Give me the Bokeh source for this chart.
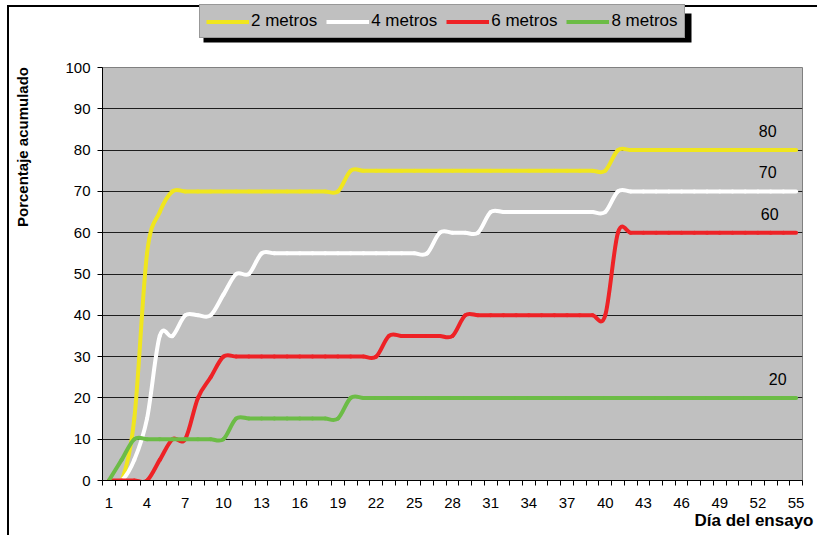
from bokeh.plotting import figure
from bokeh.layouts import column, row
from bokeh.models import (Range1d, FixedTicker, Legend, LegendItem, Label,
                          Title, BoxAnnotation)
from bokeh.embed import file_html
from bokeh.resources import INLINE

# Cumulative germination (%) per trial day, by planting distance
days = list(range(1, 56))
tick_days = list(range(1, 56, 3))
y_ticks = list(range(0, 101, 10))

series_names = ["2 metros", "4 metros", "6 metros", "8 metros"]

dist_2m = [0, 0, 15, 55, 65] + [70] * 14 + [75] * 21 + [80] * 15
dist_4m = ([0, 0, 5, 15, 35, 35, 40, 40, 40, 45, 50, 50] + [55] * 14
           + [60] * 4 + [65] * 10 + [70] * 15)
dist_6m = [0, 0, 0, 0, 5, 10, 10, 20, 25] + [30] * 13 + [35] * 6 + [40] * 12 + [60] * 15
dist_8m = [0, 5] + [10] * 8 + [15] * 9 + [20] * 36

series_values = [dist_2m, dist_4m, dist_6m, dist_8m]
series_colors = ["#F0E61E", "#FFFFFF", "#EE2226", "#6CBC46"]

FONT = "Liberation Sans"

PAGE_W, PAGE_H = 817, 535
SIDE_W = 40                # strip holding the y title
TOP_H = 60                 # strip holding the legend
F_LEFT, F_RIGHT, F_TOP, F_BOTTOM = 102, 802, 67, 480   # plot area, page px

# legend box geometry (page px)
LEG_X, LEG_TOP, LEG_W, LEG_H, LEG_PAD = 199, 9, 488, 29, 6

BLACK = "linear-gradient(#000, #000)"


def bare_figure(width, height, x_range, y_range, background):
    f = figure(width=width, height=height, output_backend="svg",
               toolbar_location=None, x_range=x_range, y_range=y_range,
               x_axis_type=None, y_axis_type=None, min_border=0,
               outline_line_color=None, background_fill_alpha=0,
               border_fill_alpha=0, frame_align=False,
               styles={"background": background})
    f.xgrid.visible = False
    f.ygrid.visible = False
    return f


# ---------------------------------------------------------------- y title strip
side = bare_figure(SIDE_W, PAGE_H, Range1d(0, SIDE_W), Range1d(PAGE_H, 0),
                   f"{BLACK} 7px 5px / 2px 100% no-repeat, "
                   f"{BLACK} 7px 5px / 100% 2px no-repeat, #fff")
side.add_layout(Label(x=22, y=146.5, text="Porcentaje acumulado",
                      angle=1.5707963, text_align="center",
                      text_baseline="middle", text_font=FONT,
                      text_font_size="15px", text_font_style="bold",
                      text_color="black"))

# ---------------------------------------------------------------- legend strip
top = bare_figure(PAGE_W - SIDE_W, TOP_H, Range1d(SIDE_W, PAGE_W),
                  Range1d(TOP_H, 0),
                  f"{BLACK} 0 5px / 100% 2px no-repeat, #fff")

# drop shadow of the legend box
top.add_layout(BoxAnnotation(left=LEG_X + 4, right=LEG_X + 4 + LEG_W,
                             top=LEG_TOP + 4, bottom=LEG_TOP + 4 + LEG_H,
                             fill_color="black", fill_alpha=1, line_alpha=0))

# legend keys: the series drawn on an off-screen range, so only their
# legend swatches show in this strip
top.extra_y_ranges = {"keys": Range1d(-300, -200)}
keys = [top.line(x=days, y=vals, y_range_name="keys",
                 line_color=c, line_width=4)
        for vals, c in zip(series_values, series_colors)]
legend = Legend(items=[LegendItem(label=n, renderers=[k])
                       for n, k in zip(series_names, keys)],
                location=(LEG_X - SIDE_W, TOP_H - (LEG_TOP + LEG_H)),
                orientation="horizontal",
                background_fill_color="#C0C0C0", background_fill_alpha=1,
                border_line_color="#707070", border_line_width=1,
                label_text_font=FONT, label_text_font_size="17px",
                label_text_color="black",
                glyph_width=43, glyph_height=LEG_H - 2 * LEG_PAD,
                label_height=LEG_H - 2 * LEG_PAD,
                label_standoff=2, spacing=9, padding=LEG_PAD, margin=0)
top.add_layout(legend)

# ---------------------------------------------------------------- chart
p = figure(width=PAGE_W - SIDE_W, height=PAGE_H - TOP_H, output_backend="svg",
           toolbar_location=None,
           x_range=Range1d(0.5, 55.5), y_range=Range1d(0, 100),
           min_border_left=F_LEFT - SIDE_W, min_border_right=PAGE_W - F_RIGHT,
           min_border_top=F_TOP - TOP_H, min_border_bottom=PAGE_H - F_BOTTOM,
           background_fill_color="#C0C0C0", border_fill_color="white",
           outline_line_color="#808080", outline_line_width=1,
           frame_align=False)

p.xaxis.ticker = FixedTicker(ticks=tick_days,
                             minor_ticks=[d + 0.5 for d in range(0, 56)])
p.xaxis.major_tick_out = 0
p.xaxis.major_tick_in = 0
p.xaxis.minor_tick_out = 5
p.xaxis.minor_tick_in = 0
p.xaxis.minor_tick_line_color = "black"
p.xaxis.major_label_standoff = 12

p.yaxis.ticker = FixedTicker(ticks=y_ticks)
p.yaxis.major_tick_out = 5
p.yaxis.major_tick_in = 0
p.yaxis.minor_tick_line_color = None
p.yaxis.major_label_standoff = 7

for ax in (p.xaxis, p.yaxis):
    ax.axis_line_color = "black"
    ax.major_tick_line_color = "black"
    ax.major_label_text_font = FONT
    ax.major_label_text_font_size = "15px"
    ax.major_label_text_color = "black"

p.add_layout(Title(text="Día del ensayo", align="right", offset=-11,
                   standoff=0, vertical_align="top",
                   text_font=FONT, text_font_size="17px",
                   text_font_style="bold", text_color="black"), "below")

p.xgrid.visible = False
p.ygrid.grid_line_color = "#1E1E1E"
p.ygrid.grid_line_width = 1


# smoothed lines (cubic Bezier through each point, Catmull-Rom style)
def bezier_segments(xs, ys):
    n = len(xs)
    seg = dict(x0=[], y0=[], x1=[], y1=[], cx0=[], cy0=[], cx1=[], cy1=[])
    for i in range(n - 1):
        a = max(i - 1, 0)
        b = min(i + 2, n - 1)
        seg["x0"].append(xs[i])
        seg["y0"].append(ys[i])
        seg["x1"].append(xs[i + 1])
        seg["y1"].append(ys[i + 1])
        seg["cx0"].append(xs[i] + (xs[i + 1] - xs[a]) / 6.0)
        seg["cy0"].append(ys[i] + (ys[i + 1] - ys[a]) / 6.0)
        seg["cx1"].append(xs[i + 1] - (xs[b] - xs[i]) / 6.0)
        seg["cy1"].append(ys[i + 1] - (ys[b] - ys[i]) / 6.0)
    return seg


for vals, color in zip(series_values, series_colors):
    p.bezier(source=bezier_segments(days, vals),
             x0="x0", y0="y0", x1="x1", y1="y1",
             cx0="cx0", cy0="cy0", cx1="cx1", cy1="cy1",
             line_color=color, line_width=4, line_cap="round")

# final value labels
label_day = 53
label_dx = [-3, -3, -1, 7]
for vals, dx in zip(series_values, label_dx):
    p.add_layout(Label(x=label_day, y=vals[-1], text=str(vals[-1]),
                       x_offset=dx, y_offset=19,
                       text_align="center", text_baseline="middle",
                       text_font=FONT, text_font_size="16px",
                       text_color="black"))

page = row(side, column(top, p, spacing=0), spacing=0)
open("out.html", "w").write(file_html(page, INLINE))
